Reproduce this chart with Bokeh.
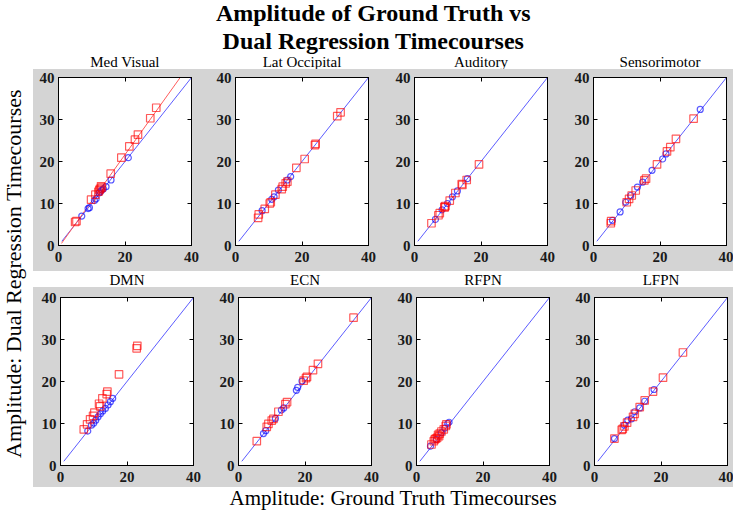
import math
from bokeh.plotting import figure
from bokeh.layouts import row, column
from bokeh.models import Range1d, FixedTicker, LinearAxis
from bokeh.embed import file_html
from bokeh.resources import INLINE
from bokeh.core.properties import value

# ---------------- data ----------------
main_title_lines = ["Amplitude of Ground Truth vs", "Dual Regression Timecourses"]
x_label = "Amplitude: Ground Truth Timecourses"
y_label = "Amplitude: Dual Regression Timecourses"
panel_names = ["Med Visual", "Lat Occipital", "Auditory", "Sensorimotor",
               "DMN", "ECN", "RFPN", "LFPN"]
x_ticks = [0, 20, 40]
y_ticks = [0, 10, 20, 30, 40]
identity_x = [1, 40]
identity_y = [1, 40]
med_visual_fit_x = [0.9, 36.6]
med_visual_fit_y = [0.5, 40.0]

med_visual_red_x = [29.4, 27.6, 23.9, 23.0, 21.3, 18.9, 15.7, 12.8, 12.5, 13.0, 12.3, 12.0, 11.1, 9.8, 5.4, 5.0]
med_visual_red_y = [32.8, 30.3, 26.4, 25.2, 23.6, 20.9, 17.1, 14.1, 13.5, 13.8, 13.2, 12.8, 12.1, 10.9, 5.8, 5.6]
med_visual_blue_x = [21.0, 15.8, 14.3, 13.0, 12.5, 13.5, 12.2, 11.3, 10.8, 9.3, 8.9, 7.0]
med_visual_blue_y = [20.9, 15.6, 14.0, 13.2, 12.8, 13.5, 12.5, 11.1, 10.7, 9.0, 8.8, 7.0]

lat_occ_red_x = [31.6, 30.6, 24.1, 23.9, 20.8, 18.3, 15.6, 15.1, 14.2, 13.9, 12.0, 10.6, 10.3, 8.8, 7.0, 6.8]
lat_occ_red_y = [31.7, 30.8, 24.2, 23.9, 20.6, 18.5, 15.2, 14.8, 14.0, 13.4, 12.1, 10.3, 10.0, 8.7, 7.4, 6.6]
lat_occ_blue_x = [16.6, 15.6, 12.9, 11.6, 10.9, 8.0]
lat_occ_blue_y = [16.4, 15.6, 13.2, 11.6, 11.0, 8.3]

auditory_red_x = [19.4, 15.7, 14.4, 14.2, 12.3, 10.6, 9.1, 9.3, 9.0, 7.6, 7.2, 5.1]
auditory_red_y = [19.3, 15.6, 14.4, 14.6, 12.5, 10.7, 9.1, 9.4, 9.2, 7.7, 7.2, 5.3]
auditory_blue_x = [15.9, 12.9, 11.4, 9.9, 8.3, 6.3]
auditory_blue_y = [15.9, 13.0, 11.6, 10.0, 8.5, 6.2]

sensorimotor_red_x = [30.1, 24.8, 23.1, 22.1, 19.1, 15.8, 15.3, 12.7, 11.5, 10.7, 10.0, 5.2, 5.3]
sensorimotor_red_y = [30.2, 25.4, 23.4, 22.4, 19.3, 15.9, 15.5, 13.1, 11.9, 11.1, 10.3, 5.3, 5.8]
sensorimotor_blue_x = [32.1, 21.8, 20.8, 17.6, 14.8, 13.2, 11.2, 9.7, 8.0, 5.7]
sensorimotor_blue_y = [32.4, 21.8, 20.6, 17.9, 15.1, 13.9, 11.9, 10.3, 8.0, 6.0]

dmn_red_x = [23.1, 22.9, 17.6, 14.1, 13.9, 12.6, 11.6, 11.9, 10.2, 9.8, 8.9, 8.0, 7.0]
dmn_red_y = [28.5, 27.9, 21.7, 17.6, 17.0, 16.0, 14.7, 14.1, 12.6, 11.8, 11.0, 9.8, 8.6]
dmn_blue_x = [8.2, 9.3, 10.0, 10.6, 11.3, 12.0, 12.7, 13.5, 14.3, 15.0, 15.7]
dmn_blue_y = [8.2, 9.6, 10.1, 10.8, 11.6, 12.3, 13.0, 13.6, 14.4, 15.2, 16.0]

ecn_red_x = [34.6, 23.9, 22.4, 20.6, 20.3, 19.6, 14.6, 14.1, 12.0, 10.5, 10.0, 9.0, 8.5, 5.5]
ecn_red_y = [35.2, 24.2, 22.7, 21.1, 20.8, 20.2, 15.1, 14.6, 12.8, 11.1, 10.7, 9.9, 9.2, 5.8]
ecn_blue_x = [19.1, 17.8, 17.4, 13.6, 12.9, 11.1, 8.2, 7.5]
ecn_blue_y = [20.1, 18.6, 17.9, 13.7, 13.2, 11.2, 8.3, 7.6]

rfpn_red_x = [4.5, 5.2, 5.5, 5.8, 6.2, 6.5, 6.8, 7.0, 7.5, 8.2, 8.8, 9.0]
rfpn_red_y = [5.0, 5.8, 6.2, 6.4, 6.6, 7.3, 7.0, 7.6, 8.1, 8.6, 9.4, 9.8]
rfpn_blue_x = [4.2, 6.0, 7.5, 8.5, 9.4, 9.8]
rfpn_blue_y = [4.6, 6.2, 7.8, 8.9, 10.0, 10.3]

lfpn_red_x = [26.6, 20.6, 17.6, 15.1, 13.6, 12.1, 11.6, 9.8, 9.0, 8.5, 8.2, 6.0]
lfpn_red_y = [26.9, 20.9, 17.6, 15.5, 13.9, 12.3, 11.6, 10.2, 9.3, 8.7, 8.5, 6.4]
lfpn_blue_x = [17.9, 15.1, 13.6, 12.1, 11.1, 10.0, 9.0, 6.0]
lfpn_blue_y = [18.1, 15.3, 13.7, 12.8, 11.1, 10.8, 9.6, 6.4]

panel_data = [
    (med_visual_red_x, med_visual_red_y, med_visual_blue_x, med_visual_blue_y),
    (lat_occ_red_x, lat_occ_red_y, lat_occ_blue_x, lat_occ_blue_y),
    (auditory_red_x, auditory_red_y, auditory_blue_x, auditory_blue_y),
    (sensorimotor_red_x, sensorimotor_red_y, sensorimotor_blue_x, sensorimotor_blue_y),
    (dmn_red_x, dmn_red_y, dmn_blue_x, dmn_blue_y),
    (ecn_red_x, ecn_red_y, ecn_blue_x, ecn_blue_y),
    (rfpn_red_x, rfpn_red_y, rfpn_blue_x, rfpn_blue_y),
    (lfpn_red_x, lfpn_red_y, lfpn_blue_x, lfpn_blue_y),
]

# ---------------- style / layout ----------------
SERIF = "Liberation Serif"
GREY = "#d4d4d4"
FRAME_W, FRAME_H = 133, 168
BAND_W = 700
YL_W = 33
row1_borders = [(25, 19), (25, 21), (25, 21), (25, 7)]   # (left, right)
row2_borders = [(27, 20), (25, 20), (25, 20), (25, 6)]
row1_tb = (8, 26)
row2_tb = (10, 22)
HEADER_H = 69
STRIP_H = 16
XL_H = 24
BAND1_H = row1_tb[0] + FRAME_H + row1_tb[1]
BAND2_H = row2_tb[0] + FRAME_H + row2_tb[1]
TOTAL_H = HEADER_H + BAND1_H + STRIP_H + BAND2_H + XL_H


def blank(w, h):
    p = figure(width=w, height=h, x_range=Range1d(0, w), y_range=Range1d(0, h),
               toolbar_location=None, output_backend="svg", title_location=None,
               x_axis_location=None, y_axis_location=None, min_border=0)
    p.outline_line_color = None
    p.background_fill_color = "white"
    p.border_fill_color = "white"
    p.grid.visible = False
    return p


def make_axis(ticks, show, standoff=4):
    ax = LinearAxis(ticker=FixedTicker(ticks=ticks))
    ax.major_tick_in = 4
    ax.major_tick_out = 0
    ax.minor_tick_line_color = None
    ax.axis_line_color = "black"
    ax.major_tick_line_color = "black"
    if show:
        ax.major_label_text_font = SERIF
        ax.major_label_text_font_size = "15px"
        ax.major_label_text_font_style = "bold"
        ax.major_label_text_color = "#1a1a1a"
        ax.major_label_standoff = standoff
    else:
        ax.major_label_text_color = None
        ax.major_label_text_font_size = "1px"
        ax.major_label_standoff = 0
    return ax


def make_panel(idx, borders, tb):
    rx, ry, bx, by = panel_data[idx]
    p = figure(frame_width=FRAME_W, frame_height=FRAME_H,
               x_range=Range1d(0, 40), y_range=Range1d(0, 40),
               min_border_left=borders[0], min_border_right=borders[1],
               min_border_top=tb[0], min_border_bottom=tb[1],
               toolbar_location=None, output_backend="svg", title_location=None,
               x_axis_location=None, y_axis_location=None)
    p.border_fill_color = GREY
    p.background_fill_color = "white"
    p.outline_line_color = "black"
    p.outline_line_width = 1
    p.grid.visible = False
    p.add_layout(make_axis(x_ticks, True, standoff=6), "below")
    p.add_layout(make_axis(y_ticks, True, standoff=4), "left")
    p.add_layout(make_axis(x_ticks, False), "above")
    p.add_layout(make_axis(y_ticks, False), "right")
    p.line(identity_x, identity_y, line_color="#5c5cff", line_width=1)
    if idx == 0:
        p.line(med_visual_fit_x, med_visual_fit_y, line_color="#ff5c5c", line_width=1)
    p.scatter(bx, by, marker="circle", size=6, fill_color=None,
              line_color="#0000ff", line_alpha=0.65, line_width=1.2)
    p.scatter(rx, ry, marker="square", size=7.5, fill_color=None,
              line_color="#ff0000", line_alpha=0.65, line_width=1.2)
    return p


def centers(borders):
    out, off = [], 0
    for l, r in borders:
        out.append(off + l + FRAME_W / 2)
        off += l + FRAME_W + r
    return out


row1 = row(*[make_panel(i, row1_borders[i], row1_tb) for i in range(4)],
           spacing=0, styles={"background-color": GREY})
row2 = row(*[make_panel(4 + i, row2_borders[i], row2_tb) for i in range(4)],
           spacing=0, styles={"background-color": GREY})

# header with main title and first-row panel titles
header = blank(BAND_W, HEADER_H)
header.text(x=[340, 340], y=[HEADER_H - 12, HEADER_H - 40.5], text=main_title_lines,
            text_font=value(SERIF), text_font_size="24px", text_font_style="bold",
            text_align="center", text_baseline="middle", text_color="black")
header.text(x=centers(row1_borders), y=[7.5] * 4, text=panel_names[:4],
            text_font=value(SERIF), text_font_size="15px",
            text_align="center", text_baseline="middle", text_color="black")

strip = blank(BAND_W, STRIP_H)
strip.text(x=centers(row2_borders), y=[7.5] * 4, text=panel_names[4:],
           text_font=value(SERIF), text_font_size="15px",
           text_align="center", text_baseline="middle", text_color="black")

xl = blank(BAND_W, XL_H)
xl.text(x=[360], y=[XL_H - 10], text=[x_label], text_font=value(SERIF), text_font_size="21px",
        text_align="center", text_baseline="middle", text_color="black")

yl = blank(YL_W, TOTAL_H)
yl.text(x=[13], y=[TOTAL_H - 273], text=[y_label], text_font=value(SERIF), text_font_size="22px",
        angle=math.pi / 2, text_align="center", text_baseline="middle", text_color="black")

right_col = column(header, row1, strip, row2, xl, spacing=0)
layout = row(yl, right_col, spacing=0)

open("out.html", "w").write(file_html(layout, INLINE, title="Amplitude"))
